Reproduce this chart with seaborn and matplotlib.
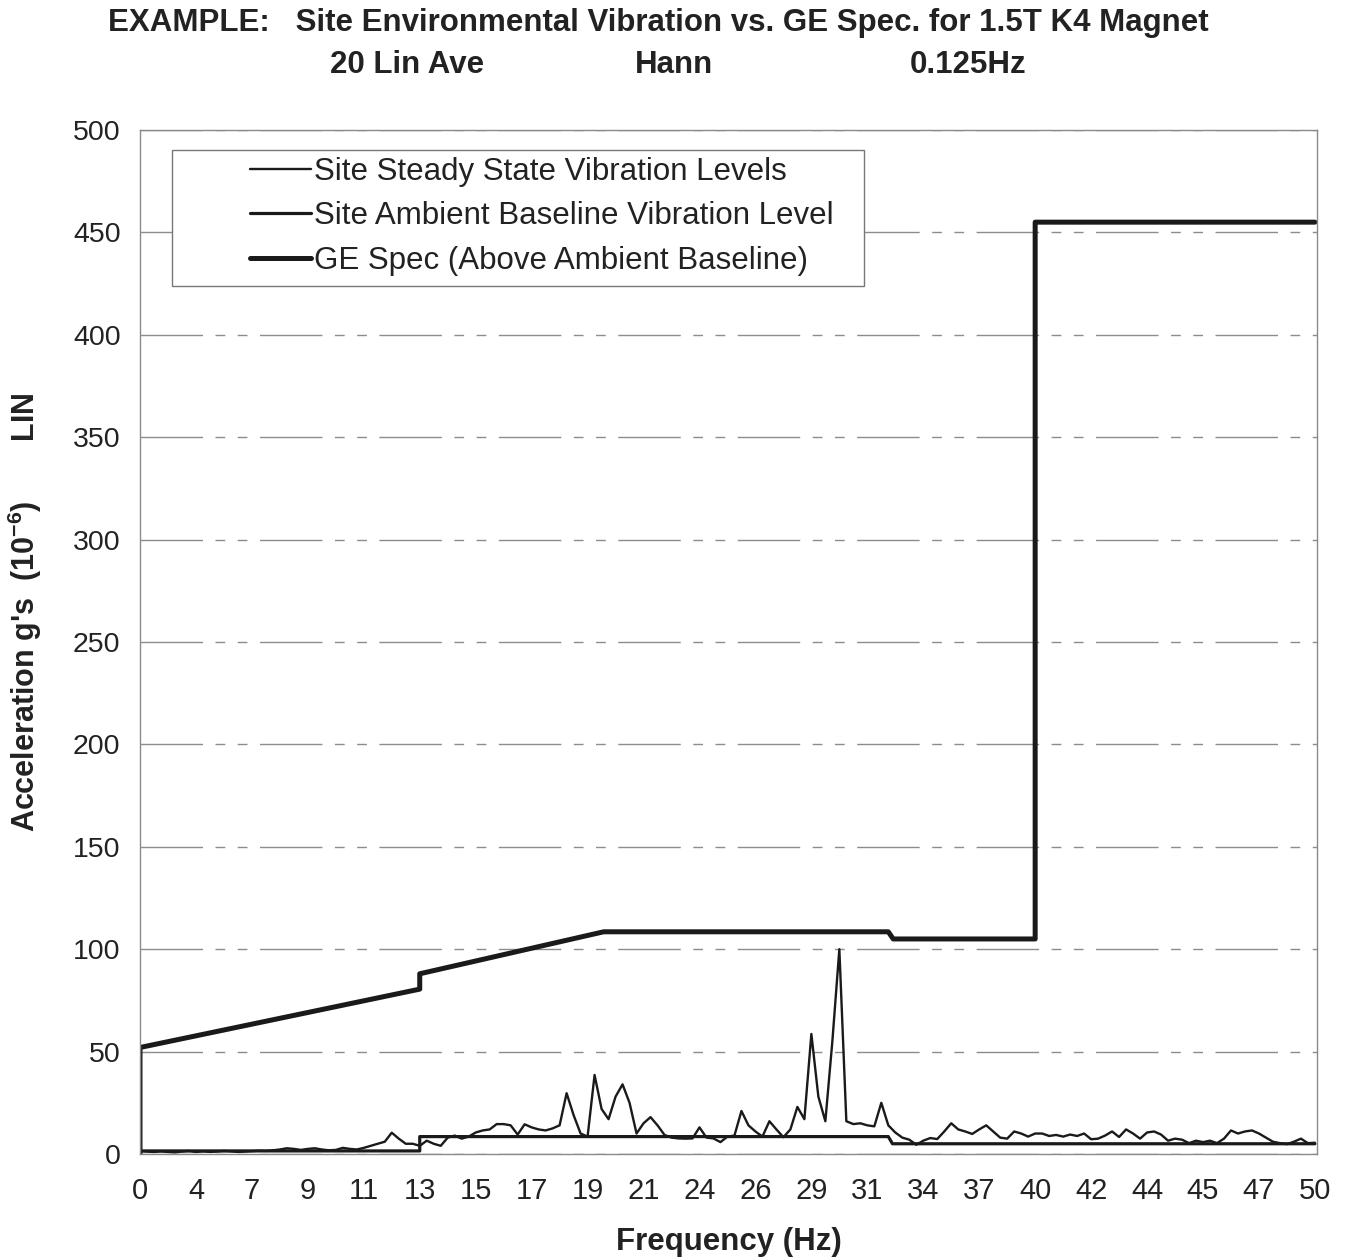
import numpy as np
import pandas as pd
import matplotlib
matplotlib.use('Agg')
import matplotlib.pyplot as plt
from matplotlib.patches import Rectangle
import seaborn as sns

# Excel-style category axis: one frequency label every 8 samples
freq_labels = ['0', '4', '7', '9', '11', '13', '15', '17', '19', '21', '24',
               '26', '29', '31', '34', '37', '40', '42', '44', '45', '47', '50']
samples_per_label = 8

# Site steady state vibration levels (1e-6 g)
steady = [
    1.5, 1.2, 1.0, 1.3, 1.0, 0.8, 1.2, 1.5, 1.0,
    1.3, 1.0, 1.2, 1.5, 1.3, 1.0, 1.2, 1.4,
    1.6, 1.5, 1.8, 2.2, 2.8, 2.5, 2.0, 2.5,
    2.8, 2.2, 1.8, 2.0, 3.0, 2.5, 2.2, 3.0,
    4.0, 5.0, 6.0, 10.4, 7.5, 5.0, 5.0, 4.0,
    6.5, 5.0, 4.0, 8.0, 9.0, 7.5, 8.5, 10.5,
    11.5, 12.0, 14.6, 14.6, 14.0, 9.5, 14.5, 13.0,
    12.0, 11.5, 12.5, 14.0, 29.7, 19.0, 10.0, 8.5,
    38.6, 22.0, 17.0, 28.0, 34.0, 25.0, 10.0, 15.0,
    18.0, 14.0, 9.3, 8.0, 7.6, 7.5, 7.6, 13.0,
    8.0, 7.6, 5.8, 8.5, 9.0, 21.0, 14.0, 11.0,
    8.5, 16.0, 12.0, 8.2, 12.0, 23.0, 17.0, 58.6,
    28.0, 16.0, 55.0, 100.0, 16.0, 14.6, 15.0, 14.0,
    13.5, 25.0, 14.0, 10.5, 8.0, 7.0, 4.5, 6.5,
    7.8, 7.3, 11.0, 15.0, 12.0, 11.0, 9.8, 12.0,
    14.0, 11.0, 8.0, 7.5, 11.0, 10.0, 8.5, 10.0,
    10.0, 8.8, 9.3, 8.5, 9.5, 8.8, 10.0, 7.2,
    7.5, 9.0, 11.0, 8.3, 12.0, 10.0, 7.5, 10.5,
    11.0, 9.5, 6.5, 7.5, 7.0, 5.3, 6.5, 5.8,
    6.5, 5.3, 7.5, 11.5, 10.0, 11.0, 11.5, 10.0,
    8.0, 6.0, 5.3, 4.8, 6.0, 7.5, 5.3, 5.5,
]

# Ambient baseline: breakpoints (sample index, level)
baseline_idx = [0, 40, 40, 107, 107.6, 168]
baseline_val = [1.5, 1.5, 8.5, 8.5, 5.0, 5.0]

# GE spec above ambient baseline: breakpoints (sample index, level)
spec_idx = [0, 0, 40, 40, 66.3, 107, 107.7, 128, 128, 168]
spec_val = [0, 52, 80.5, 88, 108.5, 108.5, 105, 105, 455, 455]

sns.set_theme(style='white')
plt.rcParams['font.family'] = ['Liberation Sans', 'DejaVu Sans']
plt.rcParams['mathtext.fontset'] = 'custom'
plt.rcParams['mathtext.rm'] = 'Liberation Sans:bold'
plt.rcParams['mathtext.default'] = 'rm'

steady_df = pd.DataFrame({'sample': np.arange(len(steady)), 'accel': steady})
base_df = pd.DataFrame({'sample': baseline_idx, 'accel': baseline_val})
spec_df = pd.DataFrame({'sample': spec_idx, 'accel': spec_val})

fig = plt.figure(figsize=(13.45, 12.6), dpi=100)
ax = fig.add_axes([140 / 1345, 1 - 1154 / 1260, 1177 / 1345, 1024 / 1260])

sns.lineplot(data=steady_df, x='sample', y='accel', ax=ax, color='#1a1a1a',
             linewidth=1.7, estimator=None, sort=False,
             label='Site Steady State Vibration Levels')
sns.lineplot(data=base_df, x='sample', y='accel', ax=ax, color='#1a1a1a',
             linewidth=2.3, estimator=None, sort=False,
             label='Site Ambient Baseline Vibration Level')
sns.lineplot(data=spec_df, x='sample', y='accel', ax=ax, color='#1a1a1a',
             linewidth=3.6, estimator=None, sort=False,
             label='GE Spec (Above Ambient Baseline)')

n_last = (len(freq_labels) - 1) * samples_per_label
ax.set_xlim(0, n_last + 0.3)
ax.set_ylim(0, 500)
ax.set_xticks(np.arange(0, n_last + 1, samples_per_label))
ax.set_xticklabels(freq_labels)
ax.set_yticks(np.arange(0, 501, 50))

ax.yaxis.grid(True, color='#8c8c8c', linewidth=1.0,
              linestyle=(0, (45, 9, 7, 9, 7, 9)))
ax.xaxis.grid(False)
ax.set_axisbelow(True)

for side in ['left', 'bottom', 'top', 'right']:
    ax.spines[side].set_visible(True)
    ax.spines[side].set_color('#8a8a8a')
    ax.spines[side].set_linewidth(1.0)

ax.tick_params(axis='x', direction='inout', length=13, width=1, color='#555555',
               labelsize=21, pad=10, labelcolor='#222222')
ax.tick_params(axis='y', direction='out', length=6, width=1, color='#777777',
               labelsize=20.5, pad=8, labelcolor='#222222')

ax.set_xlabel('Frequency (Hz)', fontsize=22.5, fontweight='bold', labelpad=16,
              color='#222222')
ax.set_ylabel('')
fig.text(25 / 1345, 1 - 612 / 1260,
         "Acceleration g's  (10$^{-6}$)       LIN",
         rotation=90, ha='center', va='center', fontsize=22,
         fontweight='bold', color='#222222')

# titles
fig.text(658 / 1345, 1 - 23 / 1260,
         'EXAMPLE:   Site Environmental Vibration vs. GE Spec. for 1.5T K4 Magnet',
         ha='center', va='center', fontsize=22.5, fontweight='bold', color='#222222')
for label, xc in [('20 Lin Ave', 407), ('Hann', 674), ('0.125Hz', 968)]:
    fig.text(xc / 1345, 1 - 65 / 1260, label, ha='center', va='center',
             fontsize=22.5, fontweight='bold', color='#222222')

# legend box drawn separately (wide left inset, like Excel)
box = Rectangle((0.0272, 0.8477), 0.6151 - 0.0272, 0.9805 - 0.8477,
                transform=ax.transAxes, facecolor='white', edgecolor='#777777',
                linewidth=1.0, zorder=4)
ax.add_patch(box)
handles, labels = ax.get_legend_handles_labels()
leg = ax.legend(handles, labels, loc='upper left', bbox_to_anchor=(0.0935, 0.974),
                frameon=False, fontsize=22.5, handlelength=1.95, handletextpad=0.1,
                borderpad=0, borderaxespad=0, labelspacing=0.47)
leg.set_zorder(5)
for t in leg.get_texts():
    t.set_color('#222222')

fig.savefig('out.png', dpi=100, facecolor='white')
